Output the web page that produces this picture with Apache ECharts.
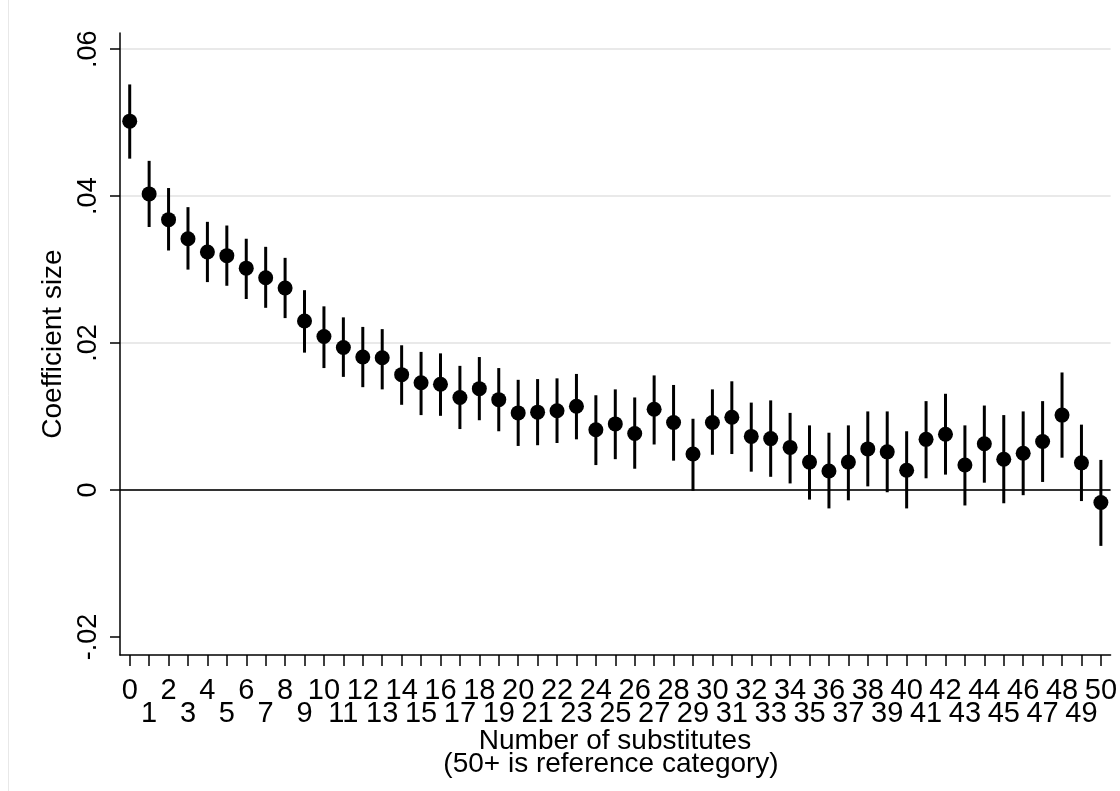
<!DOCTYPE html>
<html>
<head>
<meta charset="utf-8">
<script src="https://cdn.jsdelivr.net/npm/echarts@6/dist/echarts.min.js"></script>
<style>
html,body{margin:0;padding:0;background:#fff;}
#chart{width:1120px;height:791px;}
</style>
</head>
<body>
<div id="chart"></div>
<script>
const categories = ['0','1','2','3','4','5','6','7','8','9','10','11','12','13','14','15','16','17','18','19','20','21','22','23','24','25','26','27','28','29','30','31','32','33','34','35','36','37','38','39','40','41','42','43','44','45','46','47','48','49','50'];
const coef = [0.0502,0.0403,0.0368,0.0342,0.0324,0.0319,0.0302,0.0289,0.0275,0.0230,
  0.0209,0.0194,0.0181,0.0180,0.0157,0.0146,0.0144,0.0126,0.0138,0.0123,
  0.0105,0.0106,0.0108,0.0114,0.0082,0.0090,0.0077,0.0110,0.0092,0.0049,
  0.0092,0.0099,0.0073,0.0070,0.0058,0.0038,0.0026,0.0038,0.0056,0.0052,
  0.0027,0.0069,0.0076,0.0034,0.0063,0.0042,0.0050,0.0066,0.0102,0.0037,-0.0017];
const upper = [0.0552,0.0448,0.0411,0.0385,0.0365,0.0360,0.0342,0.0331,0.0316,0.0272,
  0.0250,0.0235,0.0222,0.0219,0.0197,0.0188,0.0186,0.0169,0.0181,0.0166,
  0.0150,0.0151,0.0152,0.0158,0.0129,0.0137,0.0126,0.0156,0.0143,0.0097,
  0.0137,0.0148,0.0119,0.0122,0.0105,0.0088,0.0078,0.0088,0.0107,0.0107,
  0.0080,0.0121,0.0131,0.0088,0.0115,0.0102,0.0107,0.0121,0.0160,0.0089,0.0041];
const lower = [0.0451,0.0358,0.0326,0.0300,0.0283,0.0278,0.0260,0.0248,0.0234,0.0187,
  0.0166,0.0154,0.0140,0.0137,0.0116,0.0102,0.0101,0.0083,0.0095,0.0080,
  0.0060,0.0061,0.0064,0.0069,0.0034,0.0042,0.0029,0.0062,0.0040,-0.0001,
  0.0048,0.0049,0.0025,0.0018,0.0009,-0.0013,-0.0025,-0.0014,0.0005,-0.0003,
  -0.0025,0.0016,0.0021,-0.0021,0.0010,-0.0018,-0.0007,0.0011,0.0044,-0.0015,-0.0076];
const yTicks = [-0.02, 0, 0.02, 0.04, 0.06];
const gridValues = [0.02, 0.04, 0.06];
const yTitle = 'Coefficient size';
const xTitle1 = 'Number of substitutes';
const xTitle2 = '(50+ is reference category)';

function fmtY(v){
  if (Math.abs(v) < 1e-12) return '0';
  let s = (Math.round(v*100)/100).toFixed(2);
  return s.replace('0.', '.');
}

const chart = echarts.init(document.getElementById('chart'), null, {renderer:'canvas'});
const FONT = '"Liberation Sans", Arial, sans-serif';

chart.setOption({
  backgroundColor: '#fff',
  animation: false,
  grid: { left: 120, right: 9, top: 33, bottom: 136, containLabel: false },
  xAxis: {
    type: 'category',
    data: categories,
    boundaryGap: true,
    axisLine: { show: true, onZero: false, lineStyle: { color: '#000', width: 1.5 } },
    axisTick: { show: true, alignWithLabel: true, interval: 0, length: 11, lineStyle: { color: '#000', width: 1.5 } },
    axisLabel: {
      interval: 0, margin: 25, color: '#000', fontFamily: FONT, fontSize: 29, lineHeight: 22.5,
      hideOverlap: false,
      formatter: function(v, i){ return (i % 2 === 1) ? '\n' + v : v; }
    },
    splitLine: { show: false }
  },
  yAxis: {
    type: 'value',
    min: -0.02245,
    max: 0.0622,
    name: yTitle,
    nameLocation: 'middle',
    nameRotate: 90,
    nameGap: 43,
    nameTextStyle: { color: '#000', fontFamily: FONT, fontSize: 28 },
    axisLine: { show: true, lineStyle: { color: '#000', width: 1.5 } },
    axisTick: { show: true, length: 10, customValues: yTicks, lineStyle: { color: '#000', width: 1.5 } },
    axisLabel: {
      customValues: yTicks, rotate: 90, margin: 18, color: '#000', fontFamily: FONT, fontSize: 27,
      formatter: fmtY
    },
    splitLine: { show: false }
  },
  graphic: [
    { type: 'line', shape: { x1: 8.5, y1: 0, x2: 8.5, y2: 791 }, style: { stroke: '#e8e8e8', lineWidth: 1 }, silent: true },
    { type: 'text', x: 615, y: 741, style: { text: xTitle1, fill: '#000', font: '28px ' + FONT, textAlign: 'center', textVerticalAlign: 'middle' } },
    { type: 'text', x: 611, y: 764, style: { text: xTitle2, fill: '#000', font: '28px ' + FONT, textAlign: 'center', textVerticalAlign: 'middle' } }
  ],
  series: [
    {
      type: 'line',
      data: [],
      z: 0,
      silent: true,
      markLine: {
        z: 0,
        silent: true, symbol: 'none', label: { show: false }, animation: false,
        data: gridValues.map(v => ({ yAxis: v, lineStyle: { color: '#e9e9e9', width: 2, type: 'solid' } }))
          .concat([{ yAxis: 0, lineStyle: { color: '#333', width: 2, type: 'solid' } }])
      }
    },
    {
      type: 'custom',
      z: 6,
      renderItem: function(params, api){
        const x = api.value(0);
        const lo = api.coord([x, api.value(1)]);
        const hi = api.coord([x, api.value(2)]);
        return { type: 'line', shape: { x1: lo[0], y1: lo[1], x2: hi[0], y2: hi[1] }, style: { stroke: '#000', lineWidth: 3 } };
      },
      data: categories.map((c, i) => [i, lower[i], upper[i]]),
      encode: { x: 0, y: [1, 2] }
    },
    {
      type: 'scatter',
      z: 7,
      symbol: 'circle',
      symbolSize: 15,
      itemStyle: { color: '#000', opacity: 1 },
      data: coef
    }
  ]
});
</script>
</body>
</html>
